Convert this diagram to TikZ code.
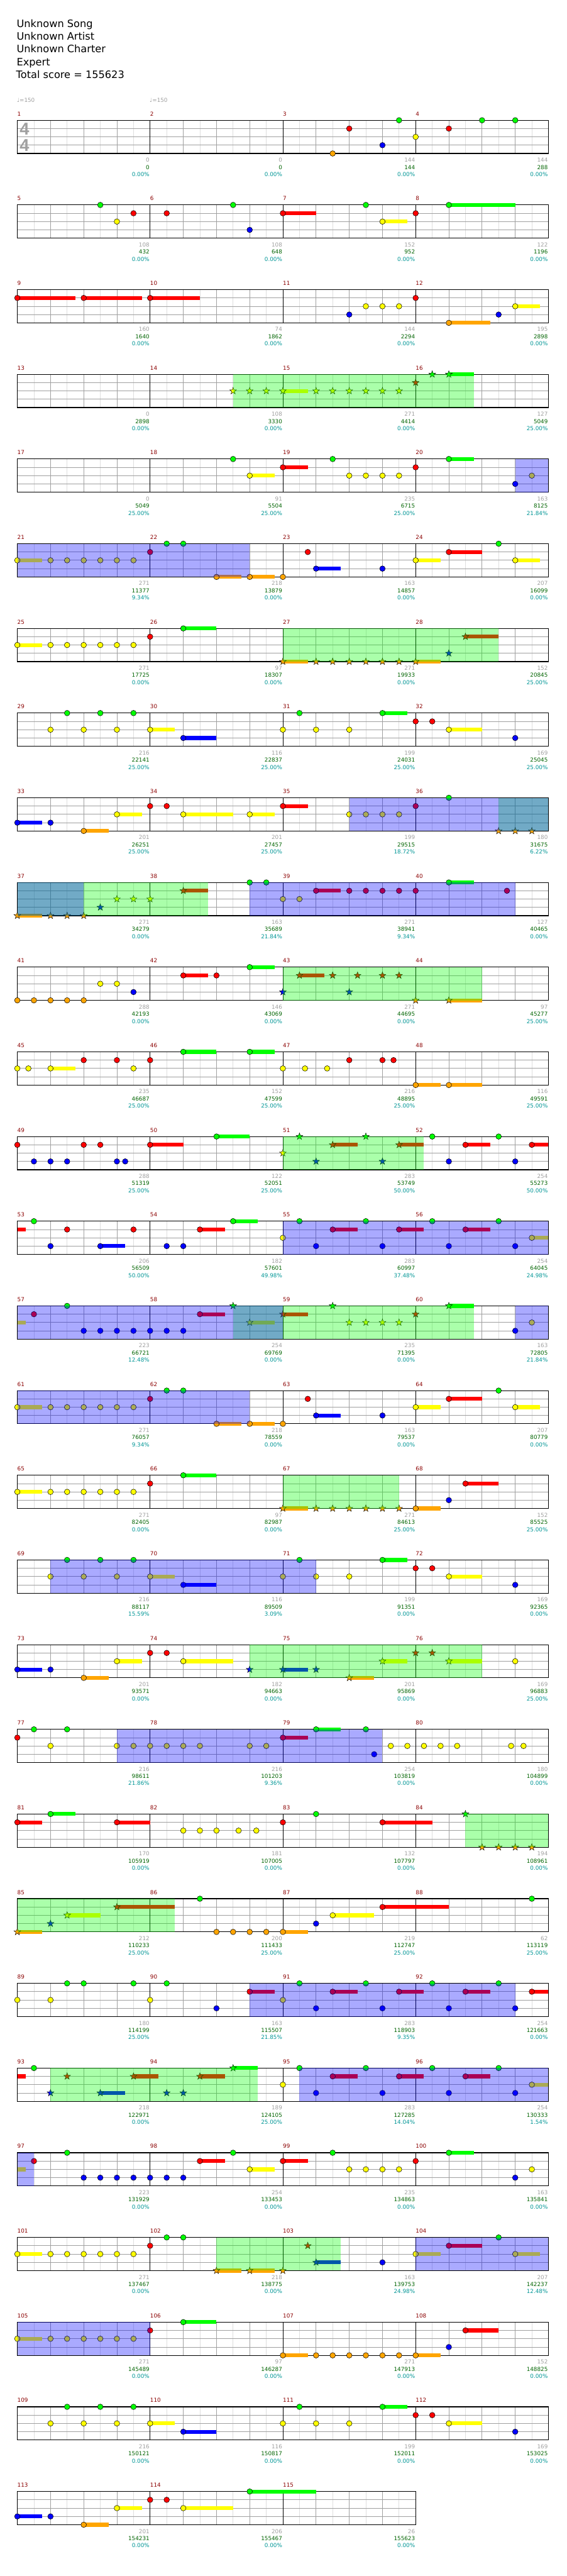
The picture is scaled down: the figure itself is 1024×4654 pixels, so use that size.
\documentclass[tikz,border=0pt]{standalone}
\usepackage{fontspec}
\setmainfont{DejaVu Sans}
\newfontfamily\tsfont{Liberation Sans}
\definecolor{laneG}{RGB}{0,255,0}
\definecolor{laneR}{RGB}{255,0,0}
\definecolor{laneY}{RGB}{255,255,0}
\definecolor{laneB}{RGB}{0,0,255}
\definecolor{laneO}{RGB}{255,165,0}
\definecolor{gD}{RGB}{160,160,160}
\definecolor{gL}{RGB}{222,222,222}
\definecolor{mred}{RGB}{139,0,0}
\definecolor{sgray}{RGB}{160,160,160}
\definecolor{sgreen}{RGB}{0,100,0}
\definecolor{steal}{RGB}{0,150,150}
\def\yG{0}\def\yR{15}\def\yY{30}\def\yB{45}\def\yO{60}
\tikzset{
  lightline/.style={gL,line width=1pt},
  darkline/.style={gD,line width=1pt},
  measline/.style={black,line width=1pt},
  border/.style={black,line width=1.3pt},
  notest/.style={draw=black,line width=0.6pt},
  starst/.style={draw=black,line width=0.5pt},
  mnst/.style={anchor=base west,inner sep=0pt,text=mred,font=\fontsize{10}{12}\selectfont},
  grst/.style={anchor=base east,inner sep=0pt,text=sgray,font=\fontsize{10}{12}\selectfont},
  gnst/.style={anchor=base east,inner sep=0pt,text=sgreen,font=\fontsize{10}{12}\selectfont},
  pcst/.style={anchor=base east,inner sep=0pt,text=steal,font=\fontsize{10}{12}\selectfont},
  hdr/.style={anchor=base west,inner sep=0pt,font=\fontsize{18.4}{22}\selectfont},
  tempost/.style={anchor=base west,inner sep=0pt,text=gD,font=\fontsize{10}{12}\selectfont},
  tsst/.style={inner sep=0pt,text=gD,font=\tsfont\bfseries\fontsize{31}{31}\selectfont},
}
\newcommand\grid[3]{%
  \foreach \k in {1,3,...,#2} \draw[lightline] ({31.3+30*\k},0) -- ++(0,60);
  \foreach \k in {2,4,...,#3} \draw[darkline] ({31.3+30*\k},0) -- ++(0,60);
  \foreach \yy in {15,30,45} \draw[darkline] (31.3,\yy) -- ({31.3+240*#1},\yy);
  \foreach \mm in {1,...,#1} \draw[measline] ({31.3+240*\mm},0) -- ++(0,60);
  \draw[border] (31.3,0) rectangle ({31.3+240*#1},60);
}
\newcommand\nt[2]{\foreach \pp in {#2}{\filldraw[notest,fill=lane#1] ({31.3+30*\pp},{\csname y#1\endcsname}) circle[radius=5];}}
\newcommand\su[3]{\fill[lane#1] ({31.3+30*(#2)},{\csname y#1\endcsname-3.5}) rectangle ({31.3+30*(#3)},{\csname y#1\endcsname+3.5});}
\newcommand\st[2]{\foreach \pp in {#2}{\filldraw[starst,fill=lane#1] ({31.3+30*\pp},{\csname y#1\endcsname}) +(-90:6.5) \foreach \aa in {0,...,4}{ -- +({-54+72*\aa}:2.6) -- +({-18+72*\aa}:6.5)} -- cycle;}}
\newcommand\ovG[2]{\fill[laneG,opacity=0.3333] ({31.3+30*(#1)},0) rectangle ({31.3+30*(#2)},60);}
\newcommand\ovB[2]{\fill[laneB,opacity=0.3333] ({31.3+30*(#1)},0) rectangle ({31.3+30*(#2)},60);}
\newcommand\ms[5]{%
  \node[mnst] (mn#2) at ({31.3+240*#1},-8) {#2};
  \node[grst] (sg#2) at ({31.3+240*(#1+1)-1},75.4) {#3};
  \node[gnst] (sc#2) at ({31.3+240*(#1+1)-1},88.4) {#4};
  \node[pcst] (sp#2) at ({31.3+240*(#1+1)-1},101.4) {#5\%};
}
\begin{document}
\begin{tikzpicture}[x=1pt,y=-1pt]
\useasboundingbox (0,0) rectangle (1024,4654);
\fill[white] (0,0) rectangle (1024,4654);
\node[hdr] (h1) at (30,49.3) {Unknown Song};
\node[hdr] (h2) at (30,72.3) {Unknown Artist};
\node[hdr] (h3) at (30,95.3) {Unknown Charter};
\node[hdr] (h4) at (30,118.3) {Expert};
\node[hdr] (h5) at (29,141.3) {Total score = 155623};
\node[tempost] (tp1) at (30.5,184.5) {♩=150};
\node[tempost] (tp2) at (270.5,184.5) {♩=150};
% row 1
\begin{scope}[shift={(0,217.3)}]
\grid{4}{31}{30}
\node[tsst] (ts1) at (44.2,15.4) {4};
\node[tsst] (ts2) at (44.2,45) {4};
\nt{G}{23,28,30}\nt{R}{20,26}\nt{Y}{24}\nt{B}{22}\nt{O}{19}
\ms{0}{1}{0}{0}{0.00}\ms{1}{2}{0}{0}{0.00}\ms{2}{3}{144}{144}{0.00}\ms{3}{4}{144}{288}{0.00}
\end{scope}
% row 2
\begin{scope}[shift={(0,{217.3+153*1})}]
\grid{4}{31}{30}
\su{G}{26}{30}\su{R}{16}{18}\su{Y}{22}{23.5}
\nt{G}{5,13,21,26}\nt{R}{7,9,16,24}\nt{Y}{6,22}\nt{B}{14}
\ms{0}{5}{108}{432}{0.00}\ms{1}{6}{108}{648}{0.00}\ms{2}{7}{152}{952}{0.00}\ms{3}{8}{122}{1196}{0.00}
\end{scope}
% row 3
\begin{scope}[shift={(0,{217.3+153*2})}]
\grid{4}{31}{30}
\su{R}{0}{3.5}\su{R}{4}{7.5}\su{R}{8}{11}\su{Y}{30}{31.5}\su{O}{26}{28.5}
\nt{R}{0,4,8,24}\nt{Y}{21,22,23,30}\nt{B}{20,29}\nt{O}{26}
\ms{0}{9}{160}{1640}{0.00}\ms{1}{10}{74}{1862}{0.00}\ms{2}{11}{144}{2294}{0.00}\ms{3}{12}{195}{2898}{0.00}
\end{scope}
% row 4
\begin{scope}[shift={(0,{217.3+153*3})}]
\grid{4}{31}{30}
\su{Y}{16}{17.5}\su{G}{26}{27.5}
\st{Y}{13,14,15,16,18,19,20,21,22,23}\st{R}{24}\st{G}{25,26}
\ovG{13}{27.5}
\ms{0}{13}{0}{2898}{0.00}\ms{1}{14}{108}{3330}{0.00}\ms{2}{15}{271}{4414}{0.00}\ms{3}{16}{127}{5049}{25.00}
\end{scope}
% row 5
\begin{scope}[shift={(0,{217.3+153*4})}]
\grid{4}{31}{30}
\su{Y}{14}{15.5}\su{R}{16}{17.5}\su{G}{26}{27.5}
\nt{G}{13,19,26}\nt{R}{16,24}\nt{Y}{14,20,21,22,23,31}\nt{B}{30}
\ovB{30}{32}
\ms{0}{17}{0}{5049}{25.00}\ms{1}{18}{91}{5504}{25.00}\ms{2}{19}{235}{6715}{25.00}\ms{3}{20}{163}{8125}{21.84}
\end{scope}
% row 6
\begin{scope}[shift={(0,{217.3+153*5})}]
\grid{4}{31}{30}
\su{Y}{0}{1.5}\su{Y}{24}{25.5}\su{Y}{30}{31.5}\su{R}{26}{28}\su{B}{18}{19.5}\su{O}{12}{13.5}\su{O}{14}{15.5}
\nt{Y}{0,2,3,4,5,6,7,24,30}\nt{R}{8,17.5,26}\nt{G}{9,10,29}\nt{B}{18,22}\nt{O}{12,14,16}
\ovB{0}{14}
\ms{0}{21}{271}{11377}{9.34}\ms{1}{22}{218}{13879}{0.00}\ms{2}{23}{163}{14857}{0.00}\ms{3}{24}{207}{16099}{0.00}
\end{scope}
% row 7
\begin{scope}[shift={(0,{217.3+153*6})}]
\grid{4}{31}{30}
\su{Y}{0}{1.5}\su{G}{10}{12}\su{O}{16}{17.5}\su{O}{24}{25.5}\su{R}{27}{29}
\nt{Y}{0,2,3,4,5,6,7}\nt{R}{8}\nt{G}{10}
\st{O}{16,18,19,20,21,22,23,24}\st{B}{26}\st{R}{27}
\ovG{16}{29}
\ms{0}{25}{271}{17725}{0.00}\ms{1}{26}{97}{18307}{0.00}\ms{2}{27}{271}{19933}{0.00}\ms{3}{28}{152}{20845}{25.00}
\end{scope}
% row 8
\begin{scope}[shift={(0,{217.3+153*7})}]
\grid{4}{31}{30}
\su{G}{22}{23.5}\su{Y}{8}{9.5}\su{Y}{26}{28}\su{B}{10}{12}
\nt{G}{3,5,7,17,22}\nt{R}{24,25}\nt{Y}{2,4,6,8,16,18,20,26}\nt{B}{10,30}
\ms{0}{29}{216}{22141}{25.00}\ms{1}{30}{116}{22837}{25.00}\ms{2}{31}{199}{24031}{25.00}\ms{3}{32}{169}{25045}{25.00}
\end{scope}
% row 9
\begin{scope}[shift={(0,{217.3+153*8})}]
\grid{4}{31}{30}
\su{B}{0}{1.5}\su{O}{4}{5.5}\su{Y}{6}{7.5}\su{Y}{10}{13}\su{Y}{14}{15.5}\su{R}{16}{17.5}
\nt{B}{0,2}\nt{O}{4}\nt{Y}{6,10,14,20,21,22,23}\nt{R}{8,9,16,24}\nt{G}{26}
\st{O}{29,30,31}
\ovG{29}{32}\ovB{20}{32}
\ms{0}{33}{201}{26251}{25.00}\ms{1}{34}{201}{27457}{25.00}\ms{2}{35}{199}{29515}{18.72}\ms{3}{36}{180}{31675}{6.22}
\end{scope}
% row 10
\begin{scope}[shift={(0,{217.3+153*9})}]
\grid{4}{31}{30}
\su{O}{0}{1.5}\su{R}{10}{11.5}\su{R}{18}{19.5}\su{G}{26}{27.5}
\st{O}{0,2,3,4}\st{B}{5}\st{Y}{6,7,8}\st{R}{10}
\nt{G}{14,15,26}\nt{Y}{16,17}\nt{R}{18,20,21,22,23,24,29.5}
\ovG{0}{11.5}\ovB{0}{4}\ovB{14}{30}
\ms{0}{37}{271}{34279}{0.00}\ms{1}{38}{163}{35689}{21.84}\ms{2}{39}{271}{38941}{9.34}\ms{3}{40}{127}{40465}{0.00}
\end{scope}
% row 11
\begin{scope}[shift={(0,{217.3+153*10})}]
\grid{4}{31}{30}
\su{R}{10}{11.5}\su{G}{14}{15.5}\su{R}{17}{18.5}\su{O}{26}{28}
\nt{O}{0,1,2,3,4}\nt{Y}{5,6}\nt{B}{7}\nt{R}{10,12}\nt{G}{14}
\st{B}{16,20}\st{R}{17,19,20.5,22,23}\st{O}{24,26}
\ovG{16}{28}
\ms{0}{41}{288}{42193}{0.00}\ms{1}{42}{146}{43069}{0.00}\ms{2}{43}{271}{44695}{0.00}\ms{3}{44}{97}{45277}{25.00}
\end{scope}
% row 12
\begin{scope}[shift={(0,{217.3+153*11})}]
\grid{4}{31}{30}
\su{Y}{2}{3.5}\su{G}{10}{12}\su{G}{14}{15.5}\su{O}{24}{25.5}\su{O}{26}{28}
\nt{Y}{0,0.667,2,7,16,17.333,18.667}\nt{R}{4,6,8,20,22,22.667}\nt{G}{10,14}\nt{O}{24,26}
\ms{0}{45}{235}{46687}{25.00}\ms{1}{46}{152}{47599}{25.00}\ms{2}{47}{216}{48895}{25.00}\ms{3}{48}{116}{49591}{25.00}
\end{scope}
% row 13
\begin{scope}[shift={(0,{217.3+153*12})}]
\grid{4}{31}{30}
\su{R}{8}{10}\su{R}{27}{28.5}\su{R}{31}{32}\su{G}{12}{14}\su{R}{19}{20.5}\su{R}{23}{24.5}
\nt{R}{0,4,5,8,27,31}\nt{B}{1,2,3,6,6.5,26,30}\nt{G}{12,25,29}
\st{G}{17,21}\st{Y}{16}\st{R}{19,23}\st{B}{18,22}
\ovG{16}{24.5}
\ms{0}{49}{288}{51319}{25.00}\ms{1}{50}{122}{52051}{25.00}\ms{2}{51}{283}{53749}{50.00}\ms{3}{52}{254}{55273}{50.00}
\end{scope}
% row 14
\begin{scope}[shift={(0,{217.3+153*13})}]
\grid{4}{31}{30}
\su{R}{0}{0.5}\su{G}{13}{14.5}\su{R}{11}{12.5}\su{R}{19}{20.5}\su{R}{23}{24.5}\su{R}{27}{28.5}\su{B}{5}{6.5}\su{Y}{31}{32}
\nt{G}{1,13,17,21,25,29}\nt{R}{3,7,11,19,23,27}\nt{B}{2,5,9,10,18,22,26,30}\nt{Y}{16,31}
\ovB{16}{32}
\ms{0}{53}{206}{56509}{50.00}\ms{1}{54}{182}{57601}{49.98}\ms{2}{55}{283}{60997}{37.48}\ms{3}{56}{254}{64045}{24.98}
\end{scope}
% row 15
\begin{scope}[shift={(0,{217.3+153*14})}]
\grid{4}{31}{30}
\su{Y}{0}{0.5}\su{R}{11}{12.5}\su{Y}{14}{15.5}\su{R}{16}{17.5}\su{G}{26}{27.5}
\nt{R}{1,11}\nt{G}{3}\nt{B}{4,5,6,7,8,9,10,30}\nt{Y}{31}
\st{G}{13,19,26}\st{Y}{14,20,21,22,23}\st{R}{16,24}
\ovG{13}{27.5}\ovB{0}{16}\ovB{30}{32}
\ms{0}{57}{223}{66721}{12.48}\ms{1}{58}{254}{69769}{0.00}\ms{2}{59}{235}{71395}{0.00}\ms{3}{60}{163}{72805}{21.84}
\end{scope}
% row 16
\begin{scope}[shift={(0,{217.3+153*15})}]
\grid{4}{31}{30}
\su{Y}{0}{1.5}\su{Y}{24}{25.5}\su{Y}{30}{31.5}\su{R}{26}{28}\su{B}{18}{19.5}\su{O}{12}{13.5}\su{O}{14}{15.5}
\nt{Y}{0,2,3,4,5,6,7,24,30}\nt{R}{8,17.5,26}\nt{G}{9,10,29}\nt{B}{18,22}\nt{O}{12,14,16}
\ovB{0}{14}
\ms{0}{61}{271}{76057}{9.34}\ms{1}{62}{218}{78559}{0.00}\ms{2}{63}{163}{79537}{0.00}\ms{3}{64}{207}{80779}{0.00}
\end{scope}
% row 17
\begin{scope}[shift={(0,{217.3+153*16})}]
\grid{4}{31}{30}
\su{Y}{0}{1.5}\su{G}{10}{12}\su{O}{16}{17.5}\su{O}{24}{25.5}\su{R}{27}{29}
\nt{Y}{0,2,3,4,5,6,7}\nt{R}{8,27}\nt{G}{10}\nt{B}{26}\nt{O}{24}
\st{O}{16,18,19,20,21,22,23}
\ovG{16}{23}
\ms{0}{65}{271}{82405}{0.00}\ms{1}{66}{97}{82987}{0.00}\ms{2}{67}{271}{84613}{25.00}\ms{3}{68}{152}{85525}{25.00}
\end{scope}
% row 18
\begin{scope}[shift={(0,{217.3+153*17})}]
\grid{4}{31}{30}
\su{Y}{8}{9.5}\su{B}{10}{12}\su{G}{22}{23.5}\su{Y}{26}{28}
\nt{G}{3,5,7,17,22}\nt{Y}{2,4,6,8,16,18,20,26}\nt{B}{10,30}\nt{R}{24,25}
\ovB{2}{18}
\ms{0}{69}{216}{88117}{15.59}\ms{1}{70}{116}{89509}{3.09}\ms{2}{71}{199}{91351}{0.00}\ms{3}{72}{169}{92365}{0.00}
\end{scope}
% row 19
\begin{scope}[shift={(0,{217.3+153*18})}]
\grid{4}{31}{30}
\su{B}{0}{1.5}\su{O}{4}{5.5}\su{Y}{6}{7.5}\su{Y}{10}{13}\su{B}{16}{17.5}\su{O}{20}{21.5}\su{Y}{22}{23.5}\su{Y}{26}{28}
\nt{B}{0,2}\nt{O}{4}\nt{Y}{6,10,30}\nt{R}{8,9}
\st{B}{14,16,18}\st{O}{20}\st{Y}{22,26}\st{R}{24,25}
\ovG{14}{28}
\ms{0}{73}{201}{93571}{0.00}\ms{1}{74}{182}{94663}{0.00}\ms{2}{75}{201}{95869}{0.00}\ms{3}{76}{169}{96883}{25.00}
\end{scope}
% row 20
\begin{scope}[shift={(0,{217.3+153*19})}]
\grid{4}{31}{30}
\su{R}{16}{17.5}\su{G}{18}{19.5}
\nt{R}{0,16}\nt{G}{1,3,18,21}\nt{Y}{2,6,7,8,9,10,11,14,15,22.5,23.5,24.5,25.5,26.5,29.75,30.5}\nt{B}{21.5}
\ovB{6}{22}
\ms{0}{77}{216}{98611}{21.86}\ms{1}{78}{216}{101203}{9.36}\ms{2}{79}{254}{103819}{0.00}\ms{3}{80}{180}{104899}{0.00}
\end{scope}
% row 21
\begin{scope}[shift={(0,{217.3+153*20})}]
\grid{4}{31}{30}
\su{R}{0}{1.5}\su{R}{6}{8}\su{R}{22}{25}\su{G}{2}{3.5}
\nt{R}{0,6,16,22}\nt{G}{2,18}\nt{Y}{10,11,12,13.333,14.4}
\st{G}{27}\st{O}{28,29,30,31}
\ovG{27}{32}
\ms{0}{81}{170}{105919}{0.00}\ms{1}{82}{181}{107005}{0.00}\ms{2}{83}{132}{107797}{0.00}\ms{3}{84}{194}{108961}{0.00}
\end{scope}
% row 22
\begin{scope}[shift={(0,{217.3+153*21})}]
\grid{4}{31}{30}
\su{O}{0}{1.5}\su{Y}{3}{5}\su{R}{6}{9.5}\su{O}{16}{17.5}\su{Y}{19}{21.5}\su{R}{22}{26}
\st{O}{0}\st{B}{2}\st{Y}{3}\st{R}{6}
\nt{G}{11,31}\nt{O}{12,13,14,15,16}\nt{B}{18}\nt{Y}{19}\nt{R}{22}
\ovG{0}{9.5}
\ms{0}{85}{212}{110233}{25.00}\ms{1}{86}{200}{111433}{25.00}\ms{2}{87}{219}{112747}{25.00}\ms{3}{88}{62}{113119}{25.00}
\end{scope}
% row 23
\begin{scope}[shift={(0,{217.3+153*22})}]
\grid{4}{31}{30}
\su{R}{14}{15.5}\su{R}{19}{20.5}\su{R}{23}{24.5}\su{R}{27}{28.5}\su{R}{31}{32}
\nt{Y}{0,2,8,16}\nt{G}{3,4,7,9,17,21,25,29}\nt{B}{12,18,22,26,30}\nt{R}{14,19,23,27,31}
\ovB{14}{30}
\ms{0}{89}{180}{114199}{25.00}\ms{1}{90}{163}{115507}{21.85}\ms{2}{91}{283}{118903}{9.35}\ms{3}{92}{254}{121663}{0.00}
\end{scope}
% row 24
\begin{scope}[shift={(0,{217.3+153*23})}]
\grid{4}{31}{30}
\su{R}{0}{0.5}\su{B}{5}{6.5}\su{R}{7}{8.5}\su{R}{11}{12.5}\su{G}{13}{14.5}\su{R}{19}{20.5}\su{R}{23}{24.5}\su{R}{27}{28.5}\su{Y}{31}{32}
\nt{G}{1,17,21,25,29}\nt{Y}{16,31}\nt{R}{19,23,27}\nt{B}{18,22,26,30}
\st{R}{3,7,11}\st{B}{2,5,9,10}\st{G}{13}
\ovG{2}{14.5}\ovB{17}{32}
\ms{0}{93}{218}{122971}{0.00}\ms{1}{94}{189}{124105}{25.00}\ms{2}{95}{283}{127285}{14.04}\ms{3}{96}{254}{130333}{1.54}
\end{scope}
% row 25
\begin{scope}[shift={(0,{217.3+153*24})}]
\grid{4}{31}{30}
\su{Y}{0}{0.5}\su{R}{11}{12.5}\su{R}{16}{17.5}\su{G}{26}{27.5}\su{Y}{14}{15.5}
\nt{R}{1,11,16,24}\nt{G}{3,13,19,26}\nt{B}{4,5,6,7,8,9,10,30}\nt{Y}{14,20,21,22,23,31}
\ovB{0}{1}
\ms{0}{97}{223}{131929}{0.00}\ms{1}{98}{254}{133453}{0.00}\ms{2}{99}{235}{134863}{0.00}\ms{3}{100}{163}{135841}{0.00}
\end{scope}
% row 26
\begin{scope}[shift={(0,{217.3+153*25})}]
\grid{4}{31}{30}
\su{Y}{0}{1.5}\su{O}{12}{13.5}\su{O}{14}{15.5}\su{B}{18}{19.5}\su{Y}{24}{25.5}\su{Y}{30}{31.5}\su{R}{26}{28}
\nt{Y}{0,2,3,4,5,6,7,24,30}\nt{R}{8,26}\nt{G}{9,10,29}\nt{B}{22}
\st{O}{12,14,16}\st{R}{17.5}\st{B}{18}
\ovG{12}{19.5}\ovB{24}{32}
\ms{0}{101}{271}{137467}{0.00}\ms{1}{102}{218}{138775}{0.00}\ms{2}{103}{163}{139753}{24.98}\ms{3}{104}{207}{142237}{12.48}
\end{scope}
% row 27
\begin{scope}[shift={(0,{217.3+153*26})}]
\grid{4}{31}{30}
\su{Y}{0}{1.5}\su{G}{10}{12}\su{O}{16}{17.5}\su{O}{24}{25.5}\su{R}{27}{29}
\nt{Y}{0,2,3,4,5,6,7}\nt{R}{8,27}\nt{G}{10}\nt{O}{16,18,19,20,21,22,23,24}\nt{B}{26}
\ovB{0}{8}
\ms{0}{105}{271}{145489}{0.00}\ms{1}{106}{97}{146287}{0.00}\ms{2}{107}{271}{147913}{0.00}\ms{3}{108}{152}{148825}{0.00}
\end{scope}
% row 28
\begin{scope}[shift={(0,{217.3+153*27})}]
\grid{4}{31}{30}
\su{G}{22}{23.5}\su{Y}{8}{9.5}\su{Y}{26}{28}\su{B}{10}{12}
\nt{G}{3,5,7,17,22}\nt{R}{24,25}\nt{Y}{2,4,6,8,16,18,20,26}\nt{B}{10,30}
\ms{0}{109}{216}{150121}{0.00}\ms{1}{110}{116}{150817}{0.00}\ms{2}{111}{199}{152011}{0.00}\ms{3}{112}{169}{153025}{0.00}
\end{scope}
% row 29
\begin{scope}[shift={(0,{217.3+153*28})}]
\grid{3}{23}{22}
\su{B}{0}{1.5}\su{O}{4}{5.5}\su{Y}{6}{7.5}\su{Y}{10}{13}\su{G}{14}{18}
\nt{B}{0,2}\nt{O}{4}\nt{Y}{6,10}\nt{R}{8,9}\nt{G}{14}
\ms{0}{113}{201}{154231}{0.00}\ms{1}{114}{206}{155467}{0.00}\ms{2}{115}{26}{155623}{0.00}
\end{scope}
\end{tikzpicture}
\end{document}
